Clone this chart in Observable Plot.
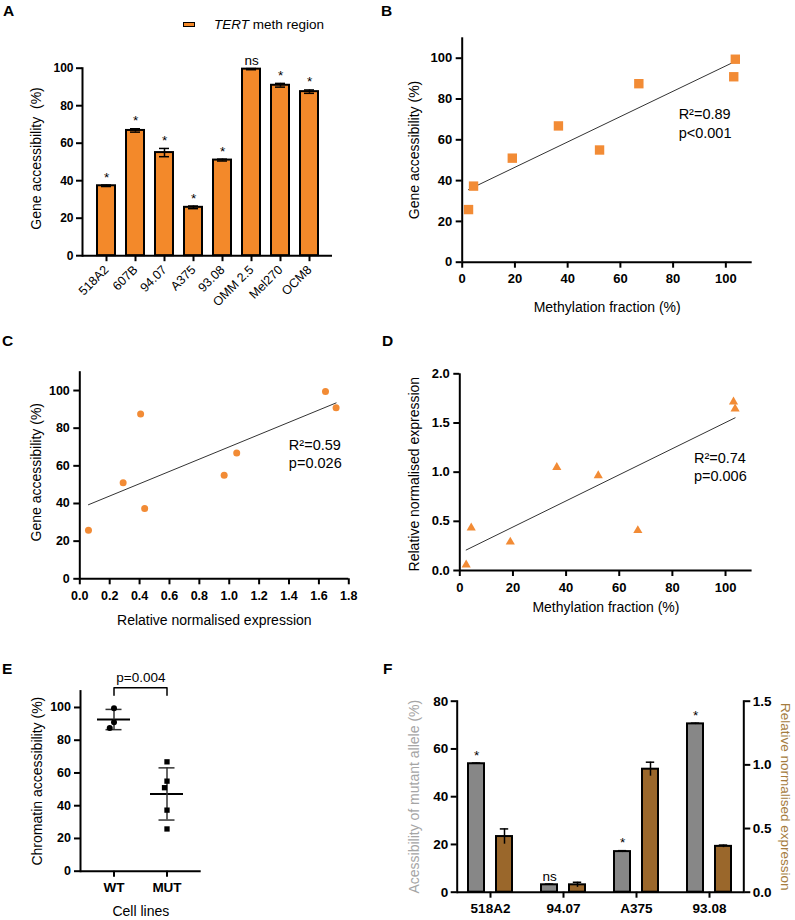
<!DOCTYPE html>
<html>
<head>
<meta charset="utf-8">
<script src="https://cdn.jsdelivr.net/npm/d3@7"></script>
<script src="https://cdn.jsdelivr.net/npm/@observablehq/plot@0.6"></script>
<style>
html, body { margin: 0; padding: 0; background: #fff; }
#fig { position: relative; width: 795px; height: 920px; overflow: hidden; background: #fff;
  font-family: "Liberation Sans", Arial, Helvetica, sans-serif; color: #000; }
.panel { position: absolute; }
.panel svg { overflow: visible; }
.lbl { position: absolute; font-weight: bold; font-size: 15.5px; line-height: 1; }
.legend-sw { position: absolute; width: 10px; height: 3px; border: 1.5px solid #000; }
.legend-tx { position: absolute; font-size: 13.5px; line-height: 16px; white-space: nowrap; }
</style>
</head>
<body>
<div id="fig"></div>
<script>
// ---------------- DATA ----------------
const cellLines        = ["518A2", "607B", "94.07", "A375", "93.08", "OMM 2.5", "Mel270", "OCM8"];
const accessibility    = [37.3, 66.8, 55.0, 25.8, 51.0, 99.5, 90.9, 87.5];   // Gene accessibility (%)
const accessibilityErr = [0.4, 0.9, 2.2, 0.7, 0.5, 0.3, 1.0, 0.9];
const significanceA    = ["*", "*", "*", "*", "*", "ns", "*", "*"];
const methylation      = [4.3, 36.5, 52.1, 2.4, 19.0, 103.6, 103.0, 67.0];   // Methylation fraction (%)
const expression       = [0.434, 1.05, 0.966, 0.058, 0.29, 1.644, 1.715, 0.407]; // Relative normalised expression
const promoterStatus   = ["MUT", "MUT", "MUT", "MUT", "MUT", "WT", "WT", "WT"];

const statsB = ["R²=0.89", "p<0.001"];
const statsC = ["R²=0.59", "p=0.026"];
const statsD = ["R²=0.74", "p=0.006"];

const eGroups = ["WT", "MUT"];
const ePValue = "p=0.004";

const fLines        = ["518A2", "94.07", "A375", "93.08"];
const fMutAccess    = [53.8, 3.1, 17.0, 70.5];     // Acessibility of mutant allele (%)
const fMutAccessErr = [0.3, 0.3, 0.4, 0.3];
const fMutSig       = ["*", "ns", "*", "*"];
const fExpression   = [0.437, 0.058, 0.966, 0.36]; // Relative normalised expression
const fExpressionErr= [0.06, 0.02, 0.055, 0.01];

const yTicksAcc = [0, 20, 40, 60, 80, 100];
const xTicksMeth = [0, 20, 40, 60, 80, 100];
const xTicksExpr = [0, 0.2, 0.4, 0.6, 0.8, 1.0, 1.2, 1.4, 1.6, 1.8];
const yTicksExpr = [0, 0.5, 1.0, 1.5, 2.0];
const yTicksF = [0, 20, 40, 60, 80];
const yTicksF2 = [0, 0.5, 1.0, 1.5];

// ---------------- STYLE ----------------
const FONT = '"Liberation Sans", Arial, Helvetica, sans-serif';
const ORANGE = "#F3892A";
const ORANGE_PT = "#F28B35";
const GREY_BAR = "#878787";
const BROWN_BAR = "#9A672B";
const GREY_TXT = "#A5A5A5";
const BROWN_TXT = "#A57C3E";

const rows = cellLines.map((name, i) => ({
  name, acc: accessibility[i], err: accessibilityErr[i], sig: significanceA[i],
  meth: methylation[i], expr: expression[i], status: promoterStatus[i]
}));
const fRows = fLines.map((line, i) => ({
  line, acc: fMutAccess[i], accErr: fMutAccessErr[i], sig: fMutSig[i],
  expr: fExpression[i], exprErr: fExpressionErr[i]
}));
const eStats = eGroups.map(g => {
  const v = rows.filter(r => r.status === g).map(r => r.acc);
  const m = d3.mean(v), s = d3.deviation(v);
  return {g, mean: m, lo: m - s, hi: m + s};
});

const fig = document.getElementById("fig");

function place(box, frame, spec) {
  const div = document.createElement("div");
  div.className = "panel";
  div.style.left = box.x + "px";
  div.style.top = box.y + "px";
  const chart = Plot.plot({
    width: box.w, height: box.h,
    marginLeft: frame.l - box.x, marginRight: box.x + box.w - frame.r,
    marginTop: frame.t - box.y, marginBottom: box.y + box.h - frame.b,
    style: {background: "transparent", fontFamily: FONT, overflow: "visible", maxWidth: "none", color: "#000"},
    ...spec
  });
  div.appendChild(chart);
  fig.appendChild(div);
  return chart;
}
function label(txt, x, y) {
  const d = document.createElement("div");
  d.className = "lbl"; d.textContent = txt;
  d.style.left = x + "px"; d.style.top = y + "px";
  fig.appendChild(d);
}
// axis titles: centred on the frame side, offset outward
function yTitle(txt, dx, dy, opts = {}) {
  return Plot.text([txt], {frameAnchor: dx < 0 ? "left" : "right", rotate: dx < 0 ? -90 : 90,
    textAnchor: "middle", lineAnchor: "middle", dx, dy, fontSize: 14, ...opts});
}
function xTitle(txt, dy) {
  return Plot.text([txt], {frameAnchor: "bottom", textAnchor: "middle", lineAnchor: "middle", dy, fontSize: 14});
}
const ax = {tickSize: 6, strokeWidth: 2, color: "#000", label: null, fontWeight: "bold"};

// ---------------- PANEL A ----------------
{
  const box = {x: 0, y: 0, w: 400, h: 300};
  const frame = {l: 82, r: 332, t: 67.7, b: 255.2};
  place(box, frame, {
    x: {domain: cellLines, range: [87.3 - box.x, 326.7 - box.x], paddingInner: 0.39, paddingOuter: 0.195},
    y: {domain: [0, 100]},
    marks: [
      Plot.barY(rows, {x: "name", y: "acc", fill: ORANGE, stroke: "#000", strokeWidth: 2}),
      Plot.ruleX(rows, {x: "name", y1: d => d.acc - d.err, y2: d => d.acc + d.err, strokeWidth: 1.5}),
      Plot.tickY(rows, {x: "name", y: d => d.acc + d.err, insetLeft: 4, insetRight: 4, strokeWidth: 1.5}),
      Plot.tickY(rows, {x: "name", y: d => d.acc - d.err, insetLeft: 4, insetRight: 4, strokeWidth: 1.5}),
      Plot.text(rows, {x: "name", y: d => d.acc + d.err, text: "sig", lineAnchor: "bottom", dy: -3.5, fontSize: 13.5}),
      Plot.ruleY([0], {strokeWidth: 2}),
      Plot.frame({anchor: "left", strokeWidth: 2}),
      Plot.axisY({...ax, ticks: yTicksAcc, fontSize: 12, tickPadding: 3}),
      Plot.axisX({tickSize: 6, strokeWidth: 2, color: "#000", label: null, tickRotate: -45, fontSize: 12.5, tickPadding: 6}),
      yTitle("Gene accessibility\u00a0 (%)", -45.7, -3.5)
    ]
  });
  const sw = document.createElement("div");
  sw.className = "legend-sw"; sw.style.left = "182.5px"; sw.style.top = "22px"; sw.style.background = ORANGE;
  fig.appendChild(sw);
  const tx = document.createElement("div");
  tx.className = "legend-tx"; tx.style.left = "214px"; tx.style.top = "16.5px";
  tx.innerHTML = "<i>TERT</i> meth region";
  fig.appendChild(tx);
}

// ---------------- PANEL B ----------------
{
  const box = {x: 400, y: 0, w: 395, h: 300};
  const frame = {l: 461.7, r: 751.7, t: 37.3, b: 261.7};
  place(box, frame, {
    x: {domain: [0, 110]},
    y: {domain: [0, 110]},
    marks: [
      Plot.linearRegressionY(rows, {x: "meth", y: "acc", ci: 0, stroke: "#333", strokeWidth: 1}),
      Plot.dot(rows, {x: "meth", y: "acc", symbol: "square", r: 5.3, fill: ORANGE_PT}),
      Plot.ruleX([0], {strokeWidth: 2}),
      Plot.ruleY([0], {strokeWidth: 2}),
      Plot.axisY({...ax, ticks: yTicksAcc, fontSize: 13, tickPadding: 4}),
      Plot.axisX({...ax, ticks: xTicksMeth, fontSize: 13, tickPadding: 6}),
      Plot.text([statsB.join("\n")], {x: 82.1, y: 76.4, textAnchor: "start", lineAnchor: "top", lineHeight: 1.26, fontSize: 14.5}),
      yTitle("Gene accessibility (%)", -47.7, 0),
      xTitle("Methylation fraction (%)", 45)
    ]
  });
}

// ---------------- PANEL C ----------------
{
  const box = {x: 0, y: 300, w: 400, h: 310};
  const frame = {l: 79.3, r: 348.3, t: 371.2, b: 578.3};
  place(box, frame, {
    x: {domain: [0, 1.8]},
    y: {domain: [0, 110]},
    marks: [
      Plot.linearRegressionY(rows, {x: "expr", y: "acc", ci: 0, stroke: "#333", strokeWidth: 1}),
      Plot.dot(rows, {x: "expr", y: "acc", symbol: "circle", r: 3.5, fill: ORANGE_PT}),
      Plot.ruleX([0], {strokeWidth: 2}),
      Plot.ruleY([0], {strokeWidth: 2}),
      Plot.axisY({...ax, ticks: yTicksAcc, fontSize: 12.5, tickPadding: 4}),
      Plot.axisX({...ax, ticks: xTicksExpr, tickFormat: ".1f", fontSize: 12.5, tickPadding: 6}),
      Plot.text([statsC.join("\n")], {x: 1.399, y: 75.2, textAnchor: "start", lineAnchor: "top", lineHeight: 1.26, fontSize: 14.5}),
      yTitle("Gene accessibility (%)", -43.3, -3),
      xTitle("Relative normalised expression", 41.7)
    ]
  });
}

// ---------------- PANEL D ----------------
{
  const box = {x: 400, y: 300, w: 395, h: 310};
  const frame = {l: 459.3, r: 751.6, t: 373.3, b: 570};
  place(box, frame, {
    x: {domain: [0, 110]},
    y: {domain: [0, 2]},
    marks: [
      Plot.linearRegressionY(rows, {x: "meth", y: "expr", ci: 0, stroke: "#333", strokeWidth: 1}),
      Plot.dot(rows, {x: "meth", y: "expr", symbol: "triangle", r: 3.4, fill: ORANGE_PT}),
      Plot.ruleX([0], {strokeWidth: 2}),
      Plot.ruleY([0], {strokeWidth: 2}),
      Plot.axisY({...ax, ticks: yTicksExpr, tickFormat: ".1f", fontSize: 13, tickPadding: 4}),
      Plot.axisX({...ax, ticks: xTicksMeth, fontSize: 13, tickPadding: 6}),
      Plot.text([statsD.join("\n")], {x: 88.1, y: 1.23, textAnchor: "start", lineAnchor: "top", lineHeight: 1.26, fontSize: 14.5}),
      yTitle("Relative normalised expression", -45.3, 2),
      xTitle("Methylation fraction (%)", 37.5)
    ]
  });
}

// ---------------- PANEL E ----------------
{
  const box = {x: 0, y: 610, w: 400, h: 310};
  const frame = {l: 80, r: 200.7, t: 690.6, b: 870.7};
  place(box, frame, {
    x: {domain: eGroups, paddingInner: 0.37, paddingOuter: 0.3026},
    y: {domain: [0, 110]},
    marks: [
      Plot.tickY(eStats, {x: "g", y: "mean", strokeWidth: 2}),
      Plot.ruleX(eStats, {x: "g", y1: "lo", y2: "hi", strokeWidth: 1.5, stroke: "#333"}),
      Plot.tickY(eStats, {x: "g", y: "hi", insetLeft: 8.5, insetRight: 8.5, strokeWidth: 1.5, stroke: "#333"}),
      Plot.tickY(eStats, {x: "g", y: "lo", insetLeft: 8.5, insetRight: 8.5, strokeWidth: 1.5, stroke: "#333"}),
      Plot.line([{g: "WT", y: 107.5}, {g: "WT", y: 112}, {g: "MUT", y: 112}, {g: "MUT", y: 107.5}],
        {x: "g", y: "y", strokeWidth: 1.5, curve: "linear"}),
      Plot.text([ePValue], {y: 112, frameAnchor: "middle", textAnchor: "middle", lineAnchor: "bottom", dy: -6, fontSize: 13.5}),
      Plot.ruleY([0], {strokeWidth: 2}),
      Plot.frame({anchor: "left", strokeWidth: 2}),
      Plot.axisY({...ax, ticks: yTicksAcc, fontSize: 12.5, tickPadding: 3.5}),
      Plot.axisX({...ax, fontSize: 13.5, tickPadding: 5}),
      yTitle("Chromatin accessibility (%)", -42.6, 0),
      xTitle("Cell lines", 40.8)
    ]
  });
  // individual cell lines, spread horizontally with the dodge transform
  place(box, frame, {
    fx: {domain: eGroups, paddingInner: 0, paddingOuter: 0.1176, axis: null, label: null},
    y: {domain: [0, 110], axis: null},
    symbol: {domain: eGroups, range: ["circle", "square"]},
    marks: [
      Plot.dot(rows, Plot.dodgeX({anchor: "middle", padding: 1, y: "acc", fx: "status", r: 3, symbol: "status", fill: "#000"}))
    ]
  });
}

// ---------------- PANEL F ----------------
{
  const box = {x: 400, y: 610, w: 395, h: 310};
  const frame = {l: 456.7, r: 743.3, t: 700.7, b: 891.7};
  const xF = {domain: fLines, range: [452.5 - box.x, 746.8 - box.x], paddingInner: 0.7745, paddingOuter: 0.387};
  place(box, frame, {
    x: xF,
    y: {domain: [0, 80]},
    marks: [
      Plot.barY(fRows, {x: "line", y: "acc", dx: -14, fill: GREY_BAR, stroke: "#000", strokeWidth: 2}),
      Plot.ruleX(fRows, {x: "line", y1: d => d.acc - d.accErr, y2: d => d.acc + d.accErr, dx: -14, strokeWidth: 1.5}),
      Plot.tickY(fRows, {x: "line", y: d => d.acc + d.accErr, dx: -14, insetLeft: 3.8, insetRight: 3.8, strokeWidth: 1.5}),
      Plot.text(fRows, {x: "line", y: d => d.acc + d.accErr, text: "sig", dx: -14, lineAnchor: "bottom", dy: -3.5, fontSize: 13.5}),
      Plot.ruleY([0], {strokeWidth: 2}),
      Plot.frame({anchor: "left", strokeWidth: 2}),
      Plot.axisY({...ax, ticks: yTicksF, fontSize: 13.5, tickPadding: 3}),
      Plot.axisX({...ax, fontSize: 13.5, tickPadding: 5}),
      yTitle("Acessibility of mutant allele (%)", -42.7, 0, {fill: GREY_TXT})
    ]
  });
  place(box, frame, {
    x: {...xF, axis: null},
    y: {domain: [0, 1.5]},
    marks: [
      Plot.barY(fRows, {x: "line", y: "expr", dx: 14, fill: BROWN_BAR, stroke: "#000", strokeWidth: 2}),
      Plot.ruleX(fRows, {x: "line", y1: d => d.expr - d.exprErr, y2: d => d.expr + d.exprErr, dx: 14, strokeWidth: 1.5}),
      Plot.tickY(fRows, {x: "line", y: d => d.expr + d.exprErr, dx: 14, insetLeft: 3.8, insetRight: 3.8, strokeWidth: 1.5}),
      Plot.frame({anchor: "right", strokeWidth: 2}),
      Plot.axisY({...ax, anchor: "right", ticks: yTicksF2, tickFormat: ".1f", fontSize: 13.5, tickPadding: 3}),
      yTitle("Relative normalised expression", 41.5, 0, {fill: BROWN_TXT, fontSize: 13.5})
    ]
  });
}

// ---------------- PANEL LETTERS ----------------
label("A", 3, 3);
label("B", 381, 3);
label("C", 2, 333);
label("D", 382, 333);
label("E", 2, 661);
label("F", 383, 661);
</script>
</body>
</html>
